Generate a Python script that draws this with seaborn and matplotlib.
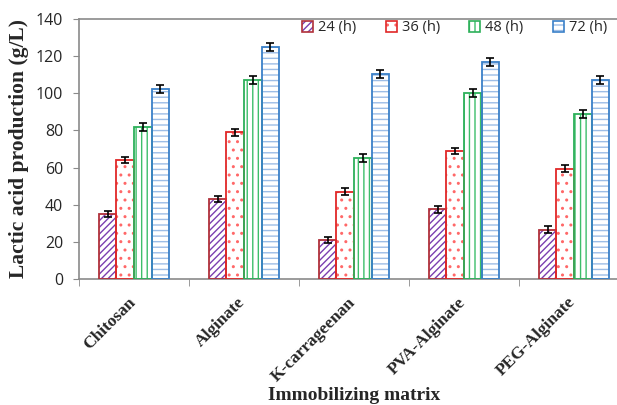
import matplotlib
matplotlib.use("Agg")
import matplotlib.pyplot as plt
from matplotlib.patches import Patch, Rectangle
from matplotlib.legend_handler import HandlerTuple
from matplotlib.transforms import ScaledTranslation
import seaborn as sns
import pandas as pd

matrices = ["Chitosan", "Alginate", "K-carrageenan", "PVA-Alginate", "PEG-Alginate"]
times = ["24 (h)", "36 (h)", "48 (h)", "72 (h)"]
v24 = [35.0, 43.0, 21.0, 37.5, 26.5]
v36 = [64.0, 79.0, 47.0, 69.0, 59.5]
v48 = [82.0, 107.0, 65.0, 100.0, 89.0]
v72 = [102.5, 125.0, 110.5, 117.0, 107.0]
e24 = [1.8, 1.8, 1.8, 1.8, 1.8]
e36 = [1.8, 1.8, 1.8, 1.8, 1.8]
e48 = [2.2, 2.2, 2.2, 2.2, 2.2]
e72 = [2.2, 2.2, 2.2, 2.2, 2.2]
yticks = [0, 20, 40, 60, 80, 100, 120, 140]

series = [v24, v36, v48, v72]
errs = [e24, e36, e48, e72]
rows = []
for t, vals in zip(times, series):
    for m, v in zip(matrices, vals):
        rows.append({"matrix": m, "time": t, "value": v})
df = pd.DataFrame(rows)

hatches = ["/////", "..", "|||", "---"]
hatch_colors = ["#7A3FB0", "#FF6868", "#3DBE6A", "#9DBDE6"]
edge_colors = ["#B0303A", "#E02828", "#2DB05A", "#3A80C8"]

sns.set_style("white")
plt.rcParams["hatch.linewidth"] = 1.0

fig = plt.figure(figsize=(6.17, 4.05), dpi=100)
ax = fig.add_axes([79 / 617, 1 - 279 / 405, 550 / 617, 260 / 405])

sns.barplot(data=df, x="matrix", y="value", hue="time", order=matrices,
            hue_order=times, palette=["white"] * 4, width=0.64, gap=0,
            errorbar=None, ax=ax, legend=False)

bar_containers = list(ax.containers)
for i, cont in enumerate(bar_containers):
    for j, p in enumerate(list(cont.patches)):
        p.set_facecolor("white")
        p.set_hatch(hatches[i])
        p.set_edgecolor(hatch_colors[i])
        p.set_linewidth(0)
        ax.add_patch(Rectangle((p.get_x(), p.get_y()), p.get_width(), p.get_height(),
                               fill=False, edgecolor=edge_colors[i], linewidth=1.3, zorder=3))
        ax.errorbar(p.get_x() + p.get_width() / 2, p.get_height(), yerr=errs[i][j],
                    fmt="none", ecolor="black", elinewidth=1.2, capsize=3, capthick=1.2, zorder=4)

ax.set_ylim(0, 140)
ax.set_yticks(yticks)
ax.set_xlim(-0.5, len(matrices) - 0.5)
for s in ["left", "bottom", "top"]:
    ax.spines[s].set_color("#8a8a8a")
    ax.spines[s].set_linewidth(1.2)
ax.spines["right"].set_visible(False)

ax.tick_params(axis="y", which="major", direction="out", length=4.5, color="#8a8a8a",
               left=True, pad=7)
ax.set_yticklabels([str(t) for t in yticks], family="Open Sans", fontsize=11.5)
ax.set_xticks([i - 0.5 for i in range(len(matrices) + 1)], minor=True)
ax.tick_params(axis="x", which="minor", direction="out", length=5, color="#8a8a8a", bottom=True)
ax.tick_params(axis="x", which="major", length=0, pad=0)
ax.set_xticklabels(matrices, rotation=45, ha="right", va="center", rotation_mode="anchor",
                   family="Liberation Serif", fontweight="bold", fontsize=12.5)
offset = ScaledTranslation(-1 / 100, -21 / 100, fig.dpi_scale_trans)
for lbl in ax.get_xticklabels():
    lbl.set_transform(lbl.get_transform() + offset)

ax.set_xlabel("Immobilizing matrix", family="Liberation Serif", fontweight="bold",
              fontsize=14, va="center")
ax.xaxis.set_label_coords(0.5, -(395 - 279) / 260)
ax.set_ylabel("Lactic acid production (g/L)", family="Liberation Serif", fontweight="bold",
              fontsize=15.5, labelpad=5)
ax.grid(False)

handles = []
for i in range(4):
    h1 = Patch(facecolor="white", edgecolor=hatch_colors[i], hatch=hatches[i], linewidth=0)
    h2 = Patch(facecolor="none", edgecolor=edge_colors[i], linewidth=1.2)
    handles.append((h1, h2))
fig.legend(handles, times, loc="upper right", bbox_to_anchor=(1.005, 0.982), ncol=4,
           frameon=False, handler_map={tuple: HandlerTuple(ndivide=1, pad=0)},
           handlelength=0.75, handleheight=0.75, handletextpad=0.35, columnspacing=2.0,
           prop={"family": "Open Sans", "size": 10.5})

fig.savefig("out.png", dpi=100)
